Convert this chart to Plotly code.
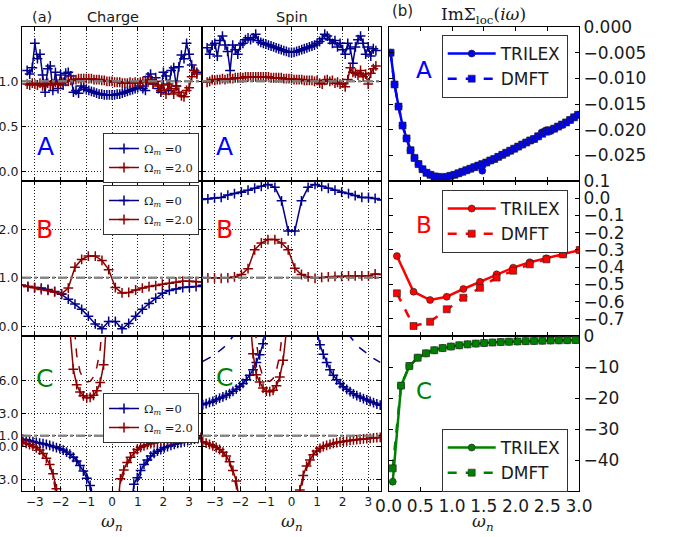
import plotly.graph_objects as go

# ---------------------------------------------------------------- data
# (a) vertex, row A (Matsubara grid, coarse sampled)
OMEGA_A = [-3.3, -3.2, -3.1, -3.0, -2.9, -2.8, -2.7, -2.6, -2.5, -2.4, -2.3, -2.2, -2.1, -2.0,
           -1.9, -1.8, -1.7, -1.6, -1.5, -1.4, -1.3, -1.2, -1.1, -1.0, -0.9, -0.8, -0.7, -0.6,
           -0.5, -0.4, -0.3, -0.2, -0.1, 0.0, 0.1, 0.2, 0.3, 0.4, 0.5, 0.6, 0.7, 0.8, 0.9, 1.0,
           1.1, 1.2, 1.3, 1.4, 1.5, 1.6, 1.7, 1.8, 1.9, 2.0, 2.1, 2.2, 2.3, 2.4, 2.5, 2.6, 2.7,
           2.8, 2.9, 3.0, 3.1, 3.2, 3.3]
CHARGE_A_OM0 = [1.12, 1.08, 1.15, 1.42, 1.25, 1.30, 1.07, 0.88, 1.14, 1.17, 0.90, 1.10, 0.92, 1.07,
                0.96, 1.09, 1.10, 1.06, 0.88, 0.90, 0.87, 0.95, 0.93, 0.91, 0.90, 0.89, 0.88, 0.87,
                0.86, 0.86, 0.85, 0.85, 0.85, 0.85, 0.85, 0.86, 0.86, 0.87, 0.88, 0.89, 0.90, 0.91,
                0.92, 0.93, 0.95, 0.92, 0.90, 1.05, 1.08, 0.97, 1.04, 0.92, 0.88, 1.10, 1.06, 0.90,
                1.12, 1.15, 0.95, 1.16, 1.29, 1.25, 1.42, 1.30, 1.18, 1.12, 1.10]
CHARGE_A_OM2 = [0.97, 0.96, 0.98, 0.97, 0.96, 0.98, 0.95, 0.97, 0.98, 0.96, 0.97, 0.99, 0.97, 0.98,
                0.99, 1.00, 1.00, 1.01, 1.02, 1.02, 1.03, 1.03, 1.03, 1.03, 1.03, 1.03, 1.02, 1.02,
                1.02, 1.01, 1.01, 1.00, 1.00, 1.00, 0.99, 0.99, 0.99, 0.98, 0.98, 0.98, 0.99, 0.98,
                0.99, 0.98, 0.99, 1.00, 1.01, 0.99, 1.02, 0.97, 1.00, 0.95, 0.90, 0.96, 0.86, 0.97,
                0.92, 0.86, 0.95, 0.88, 0.84, 0.83, 0.90, 0.93, 1.05, 1.12, 1.08]
SPIN_A_OM0 = [1.37, 1.30, 1.40, 1.42, 1.28, 1.45, 1.50, 1.40, 1.33, 1.12, 1.40, 1.35, 1.30, 1.40,
              1.42, 1.46, 1.48, 1.46, 1.48, 1.52, 1.45, 1.43, 1.42, 1.41, 1.40, 1.39, 1.38, 1.37,
              1.36, 1.35, 1.34, 1.33, 1.32, 1.32, 1.32, 1.33, 1.34, 1.35, 1.36, 1.37, 1.38, 1.39,
              1.40, 1.42, 1.44, 1.47, 1.52, 1.50, 1.46, 1.42, 1.45, 1.38, 1.42, 1.35, 1.30, 1.42,
              1.36, 1.20, 1.38, 1.46, 1.50, 1.42, 1.30, 1.38, 1.28, 1.36, 1.34]
SPIN_A_OM2 = [0.99, 1.00, 1.02, 1.01, 1.02, 1.02, 1.03, 1.02, 1.03, 1.03, 1.03, 1.04, 1.04, 1.04,
              1.04, 1.05, 1.05, 1.05, 1.05, 1.05, 1.05, 1.05, 1.05, 1.05, 1.05, 1.04, 1.04, 1.04,
              1.04, 1.04, 1.03, 1.03, 1.03, 1.03, 1.02, 1.02, 1.02, 1.02, 1.01, 1.01, 1.01, 1.01,
              1.00, 1.01, 0.98, 0.97, 1.01, 1.02, 1.00, 1.01, 0.98, 0.99, 0.97, 0.98, 0.94, 1.02,
              1.15, 1.10, 1.09, 1.07, 1.12, 1.05, 1.08, 0.97, 1.09, 1.14, 1.17]

# row B
OMEGA_B = [-3.53, -3.27, -3.01, -2.75, -2.49, -2.23, -1.96, -1.70, -1.44, -1.18, -0.92, -0.65,
           -0.39, -0.13, 0.13, 0.39, 0.65, 0.92, 1.18, 1.44, 1.70, 1.96, 2.23, 2.49, 2.75, 3.01,
           3.27, 3.53]
CHARGE_B_OM0 = [0.85, 0.82, 0.80, 0.79, 0.76, 0.72, 0.66, 0.56, 0.46, 0.35, 0.21, 0.05, -0.05,
                0.10, 0.10, -0.05, 0.06, 0.21, 0.35, 0.47, 0.58, 0.68, 0.74, 0.77, 0.80, 0.81,
                0.82, 0.85]
CHARGE_B_OM2 = [0.85, 0.82, 0.80, 0.76, 0.74, 0.71, 0.67, 0.79, 1.22, 1.38, 1.45, 1.45, 1.36,
                1.17, 0.80, 0.69, 0.70, 0.75, 0.79, 0.82, 0.84, 0.87, 0.89, 0.91, 0.93, 0.93,
                0.92, 0.92]
SPIN_B_OM0 = [2.62, 2.63, 2.65, 2.66, 2.71, 2.74, 2.77, 2.81, 2.85, 2.89, 2.93, 2.87, 2.59, 1.97,
              1.97, 2.59, 2.87, 2.93, 2.89, 2.85, 2.81, 2.77, 2.74, 2.70, 2.66, 2.66, 2.64, 2.61]
SPIN_B_OM2 = [1.00, 1.00, 1.00, 0.99, 1.00, 1.02, 1.07, 1.19, 1.58, 1.72, 1.79, 1.79, 1.72, 1.58,
              1.20, 1.07, 1.02, 0.99, 1.01, 1.02, 1.03, 1.03, 1.04, 1.04, 1.04, 1.04, 1.08, 1.07]

# row C (None = divergence, off the chart)
OMEGA_C = [-3.469, -3.338, -3.207, -3.076, -2.945, -2.814, -2.683, -2.553, -2.422, -2.291, -2.160,
           -2.029, -1.898, -1.767, -1.636, -1.505, -1.374, -1.244, -1.113, -0.982, -0.851, -0.720,
           -0.589, -0.458, -0.327, -0.196, -0.065, 0.065, 0.196, 0.327, 0.458, 0.589, 0.720, 0.851,
           0.982, 1.113, 1.244, 1.374, 1.505, 1.636, 1.767, 1.898, 2.029, 2.160, 2.291, 2.422,
           2.553, 2.683, 2.814, 2.945, 3.076, 3.207, 3.338, 3.469]
N = None
CHARGE_C_OM0 = [0.68, 0.62, 0.55, 0.46, 0.39, 0.33, 0.27, 0.20, 0.12, 0.02, -0.08, -0.18, -0.30,
                -0.48, -0.68, -0.95, -1.30, -1.70, -2.20, -2.85, -3.50, -6.0, N, N, N, N, N,
                N, N, N, N, N, -6.0, -3.40, -2.80, -2.15, -1.60, -1.20, -0.85, -0.60, -0.40, -0.25,
                -0.10, 0.02, 0.12, 0.22, 0.30, 0.38, 0.48, 0.55, 0.62, 0.68, 0.74, 0.80]
CHARGE_C_OM0_REF = [0.68, 0.62, 0.55, 0.46, 0.39, 0.33, 0.27, 0.20, 0.12, 0.02, -0.08, -0.18, -0.30,
                    -0.46, -0.62, -0.85, -1.15, -1.50, -1.95, -2.50, -3.20, -5.0, N, N, N, N, N,
                    N, N, N, N, N, -8.0, -4.2, -3.2, -2.45, -1.85, -1.40, -1.00, -0.72, -0.50, -0.32,
                    -0.15, -0.01, 0.10, 0.21, 0.30, 0.38, 0.48, 0.55, 0.62, 0.68, 0.74, 0.80]
CHARGE_C_OM2 = [0.42, 0.30, 0.18, 0.05, -0.10, -0.30, -0.62, -1.05, -1.60, -2.45, -3.80, -6.5, N,
                25.0, 10.5, 7.0, 5.6, 4.95, 4.6, 4.42, 4.45, 4.65, 5.05, 5.8, 7.4, 11.8, 40.0,
                N, -6.0, -2.9, -2.1, -1.42, -0.95, -0.55, -0.25, -0.05, 0.08, 0.18, 0.27, 0.35,
                0.42, 0.48, 0.53, 0.58, 0.62, 0.66, 0.70, 0.73, 0.76, 0.79, 0.81, 0.83, 0.85, 0.87]
CHARGE_C_OM2_REF = [0.42, 0.30, 0.18, 0.05, -0.10, -0.30, -0.62, -1.08, -1.70, -2.70, -4.50, -8.0,
                    N, N, 30.0, 12.0, 8.3, 6.8, 6.1, 5.85, 5.9, 6.3, 7.2, 8.8, 12.5, 30.0, N,
                    N, -8.0, -3.4, -2.4, -1.6, -1.1, -0.7, -0.38, -0.15, 0.02, 0.14, 0.24, 0.33,
                    0.41, 0.48, 0.53, 0.58, 0.62, 0.66, 0.70, 0.73, 0.76, 0.79, 0.81, 0.83, 0.85, 0.87]
SPIN_C_OM0 = [3.80, 3.90, 4.00, 4.10, 4.25, 4.38, 4.50, 4.65, 4.80, 5.00, 5.20, 5.45, 5.72, 6.05,
              6.45, 6.95, 7.60, 8.30, 9.30, 10.8, 13.0, 17.0, N, N, N, N, N,
              N, N, N, N, N, 17.0, 13.0, 10.6, 9.2, 8.35, 7.6, 6.95, 6.45, 6.05, 5.70, 5.42, 5.18,
              4.98, 4.78, 4.62, 4.48, 4.35, 4.22, 4.10, 3.98, 3.86, 3.75]
SPIN_C_OM0_REF = [7.70, 7.85, 8.00, 8.20, 8.42, 8.65, 8.90, 9.20, 9.55, 9.95, 10.4, 11.0, 11.7,
                  N, N, N, N, N, N, N, N, N, N, N, N, N, N,
                  N, N, N, N, N, N, N, N, N, N, N, N, N, N,
                  11.7, 11.0, 10.4, 9.95, 9.55, 9.20, 8.90, 8.65, 8.42, 8.20, 7.98, 7.80, 7.62]
SPIN_C_OM2 = [0.45, 0.33, 0.22, 0.08, -0.07, -0.25, -0.50, -0.85, -1.35, -2.15, -3.10, -5.0, N,
              25.0, 12.0, 8.4, 6.5, 5.85, 5.3, 5.02, 4.97, 5.1, 5.5, 6.3, 7.8, 10.5, 30.0,
              N, -9.0, -3.9, -2.6, -1.75, -1.2, -0.72, -0.38, -0.15, 0.02, 0.12, 0.22, 0.30,
              0.37, 0.43, 0.48, 0.53, 0.57, 0.61, 0.64, 0.67, 0.70, 0.73, 0.76, 0.79, 0.82, 0.85]
SPIN_C_OM2_REF = [0.45, 0.33, 0.22, 0.08, -0.07, -0.25, -0.52, -0.92, -1.50, -2.40, -3.60, -6.0,
                  N, N, 35.0, 14.0, 9.5, 7.3, 6.3, 5.95, 5.9, 6.15, 6.9, 8.3, 11.0, 20.0, N,
                  N, -10.0, -4.5, -2.9, -1.95, -1.35, -0.85, -0.48, -0.22, -0.03, 0.10, 0.20, 0.29,
                  0.36, 0.42, 0.48, 0.53, 0.57, 0.61, 0.64, 0.67, 0.70, 0.73, 0.76, 0.79, 0.82, 0.85]

# (b) Im Sigma_loc
SIG_W_A = [0.031, 0.094, 0.157, 0.220, 0.283, 0.346, 0.408, 0.471, 0.534, 0.597, 0.660, 0.723,
           0.785, 0.848, 0.911, 0.974, 1.037, 1.100, 1.162, 1.225, 1.288, 1.351, 1.414, 1.476,
           1.539, 1.602, 1.665, 1.728, 1.791, 1.853, 1.916, 1.979, 2.042, 2.105, 2.168, 2.231,
           2.293, 2.356, 2.419, 2.482, 2.545, 2.608, 2.670, 2.733, 2.796, 2.859, 2.922, 2.985]
SIG_A_TRILEX = [-0.0050, -0.0112, -0.0155, -0.0192, -0.0217, -0.0240, -0.0255, -0.0267, -0.0277,
                -0.0284, -0.0288, -0.0291, -0.0292, -0.0293, -0.0292, -0.0290, -0.0288, -0.0285,
                -0.0282, -0.0279, -0.0276, -0.0273, -0.0270, -0.0280, -0.0264, -0.0260, -0.0257,
                -0.0253, -0.0249, -0.0245, -0.0241, -0.0237, -0.0233, -0.0229, -0.0225, -0.0221,
                -0.0218, -0.0213, -0.0205, -0.0201, -0.0203, -0.0198, -0.0194, -0.0191, -0.0186,
                -0.0181, -0.0176, -0.0171]
SIG_A_DMFT = [-0.0050, -0.0112, -0.0155, -0.0192, -0.0217, -0.0240, -0.0255, -0.0267, -0.0277,
              -0.0284, -0.0288, -0.0291, -0.0292, -0.0293, -0.0292, -0.0290, -0.0288, -0.0285,
              -0.0282, -0.0279, -0.0276, -0.0273, -0.0270, -0.0267, -0.0264, -0.0260, -0.0257,
              -0.0253, -0.0249, -0.0245, -0.0241, -0.0237, -0.0233, -0.0229, -0.0225, -0.0221,
              -0.0218, -0.0213, -0.0208, -0.0204, -0.0201, -0.0198, -0.0194, -0.0190, -0.0186,
              -0.0181, -0.0176, -0.0171]
SIG_W_B = [0.131, 0.393, 0.654, 0.916, 1.178, 1.440, 1.702, 1.963, 2.225, 2.487, 2.749, 3.011]
SIG_B_TRILEX = [-0.336, -0.543, -0.591, -0.572, -0.527, -0.485, -0.442, -0.403, -0.372, -0.349,
                -0.324, -0.301]
SIG_B_DMFT = [-0.552, -0.742, -0.717, -0.645, -0.578, -0.520, -0.461, -0.421, -0.384, -0.355,
              -0.326, -0.301]
SIG_W_C = [0.065, 0.196, 0.327, 0.458, 0.589, 0.720, 0.851, 0.982, 1.113, 1.244, 1.374, 1.505,
           1.636, 1.767, 1.898, 2.029, 2.160, 2.291, 2.422, 2.553, 2.683, 2.814, 2.945]
SIG_C_TRILEX = [-47.0, -16.1, -9.7, -7.0, -5.6, -4.6, -3.9, -3.4, -3.0, -2.7, -2.45, -2.25, -2.1,
                -1.95, -1.85, -1.75, -1.66, -1.58, -1.51, -1.45, -1.40, -1.35, -1.30]
SIG_C_DMFT = [-42.7, -16.0, -9.7, -7.0, -5.6, -4.6, -3.9, -3.4, -3.0, -2.7, -2.45, -2.25, -2.1,
              -1.95, -1.85, -1.75, -1.66, -1.58, -1.51, -1.45, -1.40, -1.35, -1.30]

OMEGA_TICKS = [-3, -2, -1, 0, 1, 2, 3]
SIG_X_TICKS = [0.0, 0.5, 1.0, 1.5, 2.0, 2.5, 3.0]
REF_LEVEL = 1.0

# ---------------------------------------------------------------- style
W, H = 679, 537
FONT = "DejaVu Sans"
SERIF = "DejaVu Serif"
NAVY, DRED = "#00008B", "#8B0000"
TXT = "#1a1a1a"

def px(x):
    return x / W

def py(y):
    return 1 - y / H

COLS = [(22, 202), (202, 381), (388.6, 579)]
ROWS = [(27, 181), (181, 336), (336, 491)]
YRANGES = [[-0.1, 1.6], [-0.2, 3.0], [-4.0, 10.0]]
SIG_YRANGES = [[-0.030, 0.0], [-0.8, 0.1], [-50, 0]]
YTICKS = [[0.0, 0.5, 1.0], [0.0, 1.0, 2.0], [-3.0, 0.0, 1.0, 3.0, 6.0]]
YTEXT = [["0.0", "0.5", "1.0"], ["0.0", "1.0", "2.0"], ["\u22123.0", "0.0", "1.0", "3.0", "6.0"]]
SIG_YTICKS = [[0.0, -0.005, -0.010, -0.015, -0.020, -0.025],
              [0.1, 0.0, -0.1, -0.2, -0.3, -0.4, -0.5, -0.6, -0.7],
              [0, -10, -20, -30, -40]]

def fmt(v, d):
    s = f"{abs(v):.{d}f}"
    return ("\u2212" + s) if v < 0 else s

SIG_YTEXT = [[fmt(v, 3) for v in SIG_YTICKS[0]],
             [fmt(v, 1) for v in SIG_YTICKS[1]],
             [fmt(v, 0) for v in SIG_YTICKS[2]]]

fig = go.Figure()
layout = dict(width=W, height=H, margin=dict(l=0, r=0, t=0, b=0),
              paper_bgcolor="white", plot_bgcolor="white", template="none",
              font=dict(family=FONT, color=TXT), showlegend=True)

def axname(i, kind):
    return kind + ("" if i == 1 else str(i))

GRID = dict(showgrid=True, gridcolor="#222", griddash="1px,2px", gridwidth=1)

shapes = []
for r in range(3):
    for c in range(3):
        i = r * 3 + c + 1
        x0, x1 = COLS[c]
        y0, y1 = ROWS[r]
        bottom = (r == 2)
        if c < 2:
            xa = dict(domain=[px(x0), px(x1)], range=[-3.5, 3.5], tickvals=OMEGA_TICKS,
                      ticktext=[fmt(v, 0) for v in OMEGA_TICKS],
                      showticklabels=bottom, tickfont=dict(size=12, color=TXT), **GRID)
            ya = dict(domain=[py(y1), py(y0)], range=YRANGES[r], tickvals=YTICKS[r],
                      ticktext=YTEXT[r], showticklabels=(c == 0),
                      tickfont=dict(size=12.5, color=TXT), **GRID)
            shapes.append(dict(type="line", xref=axname(i, "x") + " domain", x0=0, x1=1,
                               yref=axname(i, "y"), y0=REF_LEVEL, y1=REF_LEVEL,
                               line=dict(color="rgba(128,128,128,0.9)", width=2.5, dash="dashdot"),
                               layer="above"))
        else:
            xa = dict(domain=[px(x0), px(x1)], range=[0, 3.0], tickvals=SIG_X_TICKS,
                      ticktext=[f"{v:.1f}" for v in SIG_X_TICKS],
                      showticklabels=bottom, tickfont=dict(size=17, color=TXT), showgrid=False)
            ya = dict(domain=[py(y1), py(y0)], range=SIG_YRANGES[r], tickvals=SIG_YTICKS[r],
                      ticktext=SIG_YTEXT[r], side="right", showticklabels=True,
                      tickfont=dict(size=17, color=TXT), showgrid=False)
        for a in (xa, ya):
            a.update(ticks="inside", ticklen=4, tickwidth=1, tickcolor="black",
                     showline=True, linecolor="black", linewidth=1, mirror="ticks",
                     zeroline=False, automargin=False, fixedrange=True)
        xa["anchor"] = axname(i, "y")
        ya["anchor"] = axname(i, "x")
        layout[axname(i, "xaxis")] = xa
        layout[axname(i, "yaxis")] = ya

OM0_NAME = "\u03a9<sub><i>m</i></sub> =0"
OM2_NAME = "\u03a9<sub><i>m</i></sub> =2.0"

def vertex(x, y, color, name, ax, legend, show):
    fig.add_trace(go.Scatter(
        x=x, y=y, mode="lines+markers", name=name, legend=legend, showlegend=show,
        line=dict(color=color, width=1.5),
        marker=dict(symbol="cross-thin", size=7, color=color, line=dict(color=color, width=1.5)),
        xaxis=axname(ax, "x"), yaxis=axname(ax, "y"), connectgaps=False, cliponaxis=True))

def ref(x, y, color, ax):
    fig.add_trace(go.Scatter(
        x=x, y=y, mode="lines", showlegend=False, line=dict(color=color, width=1.5, dash="dash"),
        xaxis=axname(ax, "x"), yaxis=axname(ax, "y"), connectgaps=False))

# row A
vertex(OMEGA_A, CHARGE_A_OM0, NAVY, OM0_NAME, 1, "legend", True)
vertex(OMEGA_A, CHARGE_A_OM2, DRED, OM2_NAME, 1, "legend", True)
vertex(OMEGA_A, SPIN_A_OM0, NAVY, OM0_NAME, 2, "legend", False)
vertex(OMEGA_A, SPIN_A_OM2, DRED, OM2_NAME, 2, "legend", False)
# row B
vertex(OMEGA_B, CHARGE_B_OM0, NAVY, OM0_NAME, 4, "legend2", True)
vertex(OMEGA_B, CHARGE_B_OM2, DRED, OM2_NAME, 4, "legend2", True)
vertex(OMEGA_B, SPIN_B_OM0, NAVY, OM0_NAME, 5, "legend2", False)
vertex(OMEGA_B, SPIN_B_OM2, DRED, OM2_NAME, 5, "legend2", False)
# row C
ref(OMEGA_C, CHARGE_C_OM0_REF, NAVY, 7)
ref(OMEGA_C, CHARGE_C_OM2_REF, DRED, 7)
vertex(OMEGA_C, CHARGE_C_OM0, NAVY, OM0_NAME, 7, "legend3", True)
vertex(OMEGA_C, CHARGE_C_OM2, DRED, OM2_NAME, 7, "legend3", True)
ref(OMEGA_C, SPIN_C_OM0_REF, NAVY, 8)
ref(OMEGA_C, SPIN_C_OM2_REF, DRED, 8)
vertex(OMEGA_C, SPIN_C_OM0, NAVY, OM0_NAME, 8, "legend3", False)
vertex(OMEGA_C, SPIN_C_OM2, DRED, OM2_NAME, 8, "legend3", False)

def sigma(x, yt, yd, color, ax, legend):
    fig.add_trace(go.Scatter(
        x=x, y=yt, mode="lines+markers", name="TRILEX", legend=legend,
        line=dict(color=color, width=2.5),
        marker=dict(symbol="circle", size=7, color=color, line=dict(color="#222", width=0.6)),
        xaxis=axname(ax, "x"), yaxis=axname(ax, "y")))
    fig.add_trace(go.Scatter(
        x=x, y=yd, mode="lines+markers", name="DMFT", legend=legend,
        line=dict(color=color, width=2.5, dash="dash"),
        marker=dict(symbol="square", size=7, color=color, line=dict(color="#222", width=0.6)),
        xaxis=axname(ax, "x"), yaxis=axname(ax, "y")))

sigma(SIG_W_A, SIG_A_TRILEX, SIG_A_DMFT, "#0000FF", 3, "legend4")
sigma(SIG_W_B, SIG_B_TRILEX, SIG_B_DMFT, "#FF0000", 6, "legend5")
sigma(SIG_W_C, SIG_C_TRILEX, SIG_C_DMFT, "#008000", 9, "legend6")

def leg(x, y, size, family, iw):
    return dict(x=px(x), y=py(y), xanchor="left", yanchor="top", xref="paper", yref="paper",
                bgcolor="white", bordercolor="#333", borderwidth=1,
                font=dict(size=size, family=family, color=TXT), itemwidth=iw,
                tracegroupgap=0)

layout["legend"] = leg(103, 133, 11.5, SERIF, 30)
layout["legend2"] = leg(103, 185, 11.5, SERIF, 30)
layout["legend3"] = leg(103, 393, 11.5, SERIF, 30)
layout["legend4"] = leg(441.7, 35, 17, FONT, 48)
layout["legend5"] = leg(441.7, 190, 17, FONT, 48)
layout["legend6"] = leg(441.7, 429, 17, FONT, 48)

ann = []
def text(x, y, s, size, color=TXT, family=FONT):
    ann.append(dict(x=px(x), y=py(y), xref="paper", yref="paper", text=s, showarrow=False,
                    xanchor="center", yanchor="middle", font=dict(size=size, color=color,
                                                                  family=family)))

text(42, 17, "(a)", 14.5)
text(113, 17, "Charge", 14.5)
text(292, 17, "Spin", 14.5)
text(402, 11, "(b)", 15)
text(483, 15, "Im\u03a3<sub>loc</sub>(<i>i\u03c9</i>)", 17, family=SERIF)
for xc in (112, 292, 483):
    text(xc, 522, "<i>\u03c9</i><sub><i>n</i></sub>", 17, family=SERIF)

for (xc, yc, s, col, sz) in [(45, 146, "A", "#0000FF", 25), (224, 146, "A", "#0000FF", 25),
                             (424, 70, "A", "#0000FF", 23),
                             (44.5, 229.5, "B", "#FF0000", 25), (224.5, 229.5, "B", "#FF0000", 25),
                             (424, 225, "B", "#FF0000", 23),
                             (44, 378.5, "C", "#008000", 25), (224, 377, "C", "#008000", 25),
                             (424, 391, "C", "#008000", 23)]:
    text(xc, yc, s, sz, color=col)

layout["annotations"] = ann
layout["shapes"] = shapes
fig.update_layout(**layout)
fig.write_html("out.html", config={"displayModeBar": False},
               post_script="document.body.style.margin='0px';")
